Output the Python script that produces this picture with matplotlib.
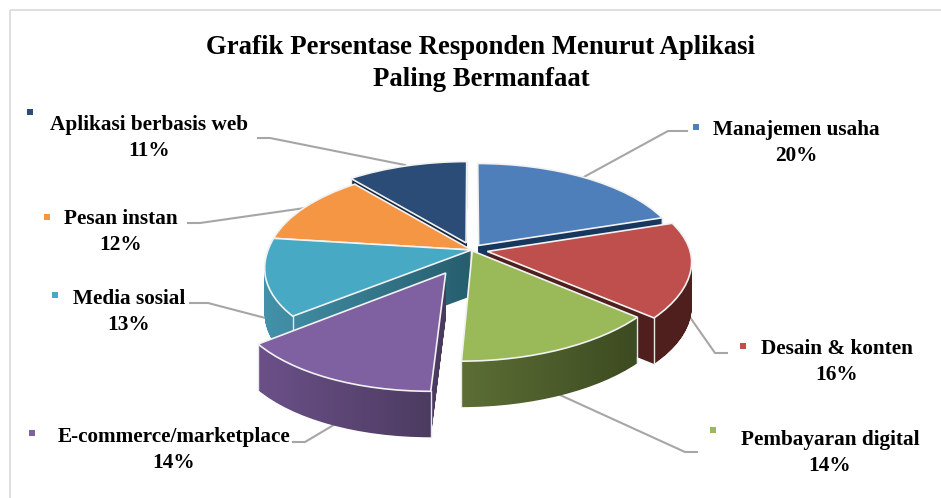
import numpy as np
import matplotlib
matplotlib.use("Agg")
import matplotlib.pyplot as plt
from matplotlib.colors import LinearSegmentedColormap
from matplotlib.path import Path
from matplotlib.patches import Rectangle
from matplotlib.transforms import Transform, IdentityTransform

labels = ["Manajemen usaha", "Desain & konten", "Pembayaran digital", "E-commerce/marketplace",
          "Media sosial", "Pesan instan", "Aplikasi berbasis web"]
values = [20, 16, 14, 14, 13, 12, 11]
explode = [0.06, 0.08, 0.01, 0.26, 0.0, 0.0, 0.08]
colors = ["#4F7FBB", "#BE4F4C", "#9ABA59", "#7F60A0", "#48A9C4", "#F59644", "#2A4C76"]

# side wall colours, left to right
side_left = ["#17375E", "#4E1F1C", "#5C6E36", "#6B5088", "#4392AA", "#A8682F", "#14263E"]
side_right = ["#17375E", "#4E1F1C", "#3D4B20", "#4A3A5E", "#265E6E", "#A8682F", "#14263E"]
draw_order = [6, 5, 0, 4, 1, 2, 3]

# label centre, marker and leader line, in pixels
label_pos = [(796, 143), (837, 362), (830, 453), (174, 450), (129, 312), (121, 232), (149, 138)]
marker_pos = [(696, 127), (743, 346), (713, 430), (32, 433), (55, 295), (47, 217), (30, 112)]
leaders = [
    [(582, 178), (668, 131), (687, 131)],
    [(687, 313), (715, 353), (727, 353)],
    [(560, 395), (685, 452), (697, 452)],
    [(337, 423), (305, 442), (293, 442)],
    [(273, 320), (208, 303), (190, 303)],
    [(305, 208), (200, 223), (188, 223)],
    [(405, 165), (270, 138), (258, 138)],
]

depth = 46


class Persp(Transform):
    # squashes the unit pie into a tilted disc, front bigger than back
    input_dims = 2
    output_dims = 2
    has_inverse = False

    def __init__(self, drop=0):
        super().__init__()
        self.drop = drop

    def transform_non_affine(self, xy):
        xy = np.asarray(xy, dtype=float)
        x, y = xy[:, 0], xy[:, 1]
        s = 1 / (1 + 0.14 * y)
        px = 471.5 + 203 * x * s + 11 * np.minimum(y, 0)
        py = 250 + self.drop - 94.6 * y * s
        return np.column_stack([px, py])


fig = plt.figure(figsize=(9.41, 4.98), dpi=100)
ax = fig.add_axes([0, 0, 1, 1])

n = len(values)
stacks = [[] for i in range(n)]
for d in range(depth, 0, -1):
    wedges, _ = ax.pie(values, explode=explode, startangle=90, counterclock=False)
    for i, w in enumerate(wedges):
        w.set_transform(Persp(d) + ax.transData)
        w.set_visible(False)
        stacks[i].append(w)

tops, _ = ax.pie(values, explode=explode, colors=colors, startangle=90, counterclock=False,
                 wedgeprops={"edgecolor": "#F2F2F2", "linewidth": 1.2})
images = []
ends = 90 - 3.6 * np.cumsum(values)
starts = ends + 3.6 * np.array(values)
for rank, i in enumerate(draw_order):
    z = 10 * rank + 10
    tops[i].set_transform(Persp(0) + ax.transData)
    tops[i].set_zorder(z + 2)
    cmap = LinearSegmentedColormap.from_list("side%d" % i, [side_left[i], side_right[i]])
    xs = Persp(0).transform(tops[i].get_path().vertices)[:, 0]
    im = ax.imshow(np.linspace(0, 1, 64)[None, :], cmap=cmap, aspect="auto", zorder=z,
                   extent=[xs.min(), xs.max(), 498, 0])
    images.append((im, i))

    # light vertical edge on the outer corners
    mid = np.radians((starts[i] + ends[i]) / 2)
    off = explode[i] * np.array([np.cos(mid), np.sin(mid)])
    for ang in (starts[i], ends[i]):
        p = off + [np.cos(np.radians(ang)), np.sin(np.radians(ang))]
        a = Persp(0).transform(p[None, :])[0]
        b = Persp(depth).transform(p[None, :])[0]
        ax.plot([a[0], b[0]], [a[1], b[1]], color="#E8E8E8", lw=1, zorder=z + 1)

ax.set_aspect("auto")
ax.set_xlim(0, 941)
ax.set_ylim(498, 0)
ax.set_axis_off()

for im, i in images:
    clip = Path.make_compound_path(*[w.get_transform().transform_path(w.get_path()) for w in stacks[i]])
    im.set_clip_path(clip, IdentityTransform())

# leader lines
for pts in leaders:
    ax.plot([p[0] for p in pts], [p[1] for p in pts], color="#A6A6A6", lw=1.5, zorder=3)

serif = "Liberation Serif"
ax.text(481, 63.5, "Grafik Persentase Responden Menurut Aplikasi\nPaling Bermanfaat", ha="center", va="center",
        fontsize=19.25, fontweight="bold", family=serif, linespacing=1.35, zorder=100)
for i in range(n):
    ax.text(label_pos[i][0], label_pos[i][1], "%s\n%d%%" % (labels[i], values[i]), ha="center", va="center",
            fontsize=15.3, fontweight="bold", family=serif, linespacing=1.38, zorder=100)
    ax.plot(marker_pos[i][0], marker_pos[i][1], "s", color=colors[i], ms=3.8, mew=0, zorder=100)

# chart frame, top and left only are inside the crop
ax.add_patch(Rectangle((10, 10), 1000, 600, fill=False, edgecolor="#D9D9D9", lw=1.2, zorder=1))

fig.savefig("out.png", dpi=100)
